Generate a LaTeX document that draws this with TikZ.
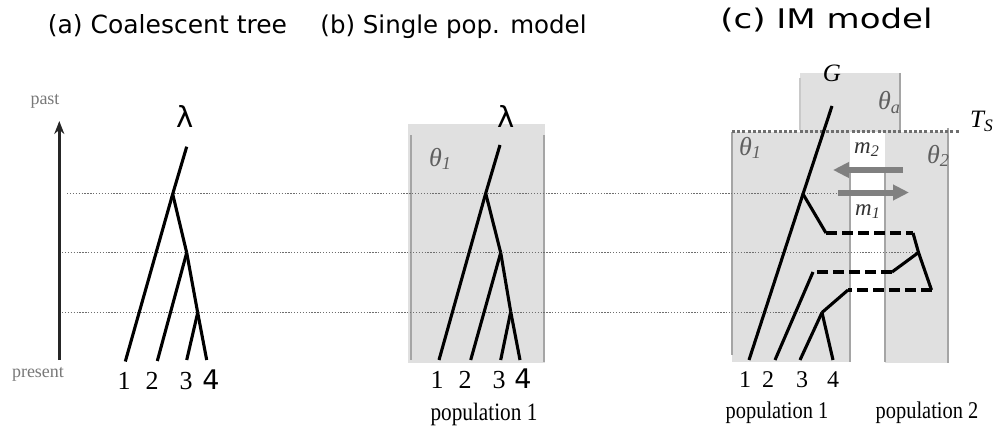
\documentclass[tikz,border=0pt]{standalone}
\usepackage{fontspec}
\setmainfont{Liberation Serif}
\newfontfamily\titlefont{DejaVu Sans}
\newfontfamily\widetitlefont[FakeStretch=1.26]{DejaVu Sans}
\newfontfamily\popfont[FakeStretch=0.85]{Liberation Serif}
\usetikzlibrary{arrows.meta}

\definecolor{popfill}{RGB}{224,224,224}
\definecolor{popedge}{RGB}{165,165,165}
\definecolor{dotgray}{RGB}{110,110,110}
\definecolor{arrowgray}{RGB}{128,128,128}
\definecolor{lblgray}{RGB}{95,95,95}
\definecolor{axisgray}{RGB}{120,120,120}

\begin{document}
\begin{tikzpicture}[
  x=1pt, y=-1pt,
  branch/.style={line width=3.1pt, draw=black},
  migline/.style={branch, dash pattern=on 11pt off 5pt},
  popbox/.style={fill=popfill, draw=none},
  popline/.style={line width=2pt, draw=popedge},
  timeline/.style={line width=1.3pt, draw=dotgray, dash pattern=on 1.3pt off 1.6pt},
  splitline/.style={line width=3pt, draw=dotgray, dash pattern=on 3pt off 2.2pt},
  migarrow/.style={line width=6pt, draw=arrowgray, -{Triangle[length=16pt,width=15pt]}},
  timearrow/.style={line width=2.4pt, draw=black!85, -{Stealth[length=13pt,width=10pt]}},
  title/.style={anchor=base, inner sep=0pt, font=\titlefont\fontsize{24.5}{28}\selectfont},
  axislbl/.style={anchor=base, inner sep=0pt, text=axisgray, font=\fontsize{18}{20}\selectfont},
  leaf/.style={anchor=base, inner sep=0pt, font=\fontsize{26}{30}\selectfont},
  leafsans/.style={anchor=base, inner sep=0pt, font=\titlefont\fontsize{27}{30}\selectfont},
  popname/.style={anchor=base, inner sep=0pt, font=\popfont\fontsize{25}{28}\selectfont},
  param/.style={anchor=base west, inner sep=0pt, text=lblgray, font=\itshape\fontsize{26}{29}\selectfont},
  rate/.style={anchor=base west, inner sep=0pt, text=black!80, font=\itshape\fontsize{23}{26}\selectfont},
]
\useasboundingbox (0,0) rectangle (995,433);

% ---- titles ----
\node[title, font=\titlefont\fontsize{25}{28}\selectfont] (ta) at (167.5,34) {(a) Coalescent tree};
\node[title] (tb) at (453.5,34) {(b) Single pop. model};
\node[title, font=\widetitlefont\fontsize{27}{30}\selectfont] (tc) at (826.5,28.5) {(c) IM model};

% ---- time axis ----
\coordinate (now) at (59.3,360);
\coordinate (then) at (59.3,121);
\draw[timearrow] (now) -- (then);
\node[axislbl] (past) at (45,105) {past};
\node[axislbl] (present) at (38,377) {present};

% ---- population boxes ----
\fill[popbox] (408,124) rectangle (545,362.7);
\fill[popbox] (800,73) rectangle (900,132);
\fill[popbox] (732,132) rectangle (850,362);
\fill[popbox] (885,132) rectangle (948,363);
\draw[popline] (411,135) -- (411,360);
\draw[popline] (544,135) -- (544,361.7);
\draw[popline, draw=popedge!60] (800,78) -- (800,130);
\draw[popline] (900,73) -- (900,132);
\draw[popline] (732,132) -- (732,355);
\draw[popline] (850,172) -- (850,362);
\draw[popline] (885,172) -- (885,362);
\draw[popline] (948,128) -- (948,363);

% ---- splitting time ----
\coordinate (ts-l) at (732,131.7);
\coordinate (ts-r) at (960,131.7);
\draw[splitline] (ts-l) -- (ts-r);
\node[anchor=base west, inner sep=0pt, font=\itshape\fontsize{25}{28}\selectfont] (ts) at (970,128)
  {T\textsubscript{S}};

% ---- tree (a) ----
\coordinate (a-top) at (186.7,146.7);
\coordinate (a-x) at (172.7,194);
\coordinate (a-y) at (186.7,252.7);
\coordinate (a-z) at (197.7,312.7);
\coordinate (a-1) at (125.3,361.5);
\coordinate (a-2) at (157.3,361);
\coordinate (a-3) at (186.7,360);
\coordinate (a-4) at (206.7,360);

% ---- tree (b) ----
\coordinate (b-top) at (500,145);
\coordinate (b-x) at (485.7,193.3);
\coordinate (b-y) at (500.7,252.7);
\coordinate (b-z) at (510.7,311.7);
\coordinate (b-1) at (439,360);
\coordinate (b-2) at (470.7,360);
\coordinate (b-3) at (500.7,360);
\coordinate (b-4) at (520,360);

% ---- tree (c) ----
\coordinate (c-top) at (832,106);
\coordinate (c-x) at (803,194);
\coordinate (c-p) at (826,233);
\coordinate (c-q) at (913,233);
\coordinate (c-d) at (918.5,252.5);
\coordinate (c-r) at (931.5,290);
\coordinate (c-s) at (848,290);
\coordinate (c-z) at (822,312.5);
\coordinate (c-u) at (892,272);
\coordinate (c-v) at (813,272);
\coordinate (c-1) at (749,360);
\coordinate (c-2) at (775,360);
\coordinate (c-3) at (800,360);
\coordinate (c-4) at (833,360);

% ---- migration arrows ----
\coordinate (m2-s) at (903,170);
\coordinate (m2-e) at (833,170);
\coordinate (m1-s) at (838,192.5);
\coordinate (m1-e) at (909,192.5);
\draw[migarrow] (m2-s) -- (m2-e);
\draw[migarrow] (m1-s) -- (m1-e);

% ---- coalescence times ----
\coordinate (t1) at (67,193.5);
\coordinate (t2) at (62,252.5);
\coordinate (t3) at (62,312.5);
\coordinate (t3-e) at (817,312.5);
\draw[timeline] (t1) -- (m1-s |- t1);
\draw[timeline] (t2) -- (c-d);
\draw[timeline] (t3) -- (t3-e);

% ---- branches ----
\foreach \u/\v in {a-top/a-x, a-x/a-1, a-x/a-y, a-y/a-2, a-y/a-z, a-z/a-3, a-z/a-4,
                   b-top/b-x, b-x/b-1, b-x/b-y, b-y/b-2, b-y/b-z, b-z/b-3, b-z/b-4,
                   c-top/c-x, c-x/c-1, c-x/c-p, c-q/c-d, c-d/c-r, c-s/c-z,
                   c-z/c-3, c-z/c-4, c-d/c-u, c-v/c-2}
  \draw[branch] (\u) -- (\v);
\draw[migline] (c-p) -- (c-q);
\draw[migline] (c-r) -- (c-s);
\draw[migline] (c-u) -- (c-v);

% ---- tree labels ----
\node[anchor=base, inner sep=0pt, font=\titlefont\fontsize{29}{32}\selectfont] (lam-a) at (185,128) {λ};
\node[anchor=base, inner sep=0pt, font=\titlefont\fontsize{29}{32}\selectfont] (lam-b) at (506,128) {λ};
\node[anchor=base, inner sep=0pt, font=\itshape\fontsize{25}{28}\selectfont] (g) at (832,82) {G};

\node[leaf] (la-1) at (124,389) {1};
\node[leaf] (la-2) at (152,389) {2};
\node[leaf] (la-3) at (186,389) {3};
\node[leafsans] (la-4) at (211,389) {4};
\node[leaf] (lb-1) at (437,388) {1};
\node[leaf] (lb-2) at (465,388) {2};
\node[leaf] (lb-3) at (499,388) {3};
\node[leafsans] (lb-4) at (523,388) {4};
\node[leaf, font=\fontsize{24}{27}\selectfont] (lc-1) at (745,387) {1};
\node[leaf, font=\fontsize{24}{27}\selectfont] (lc-2) at (768,387) {2};
\node[leaf, font=\fontsize{24}{27}\selectfont] (lc-3) at (802,387) {3};
\node[leaf, font=\fontsize{24}{27}\selectfont] (lc-4) at (833,387) {4};

\node[popname] (pop-b) at (484,420) {population 1};
\node[popname, font=\popfont\fontsize{24}{27}\selectfont] (pop-c1) at (777,418) {population 1};
\node[popname, font=\popfont\fontsize{24}{27}\selectfont] (pop-c2) at (927,418) {population 2};

% ---- parameters ----
\node[param] (th-b) at (429,166) {θ\textsubscript{1}};
\node[param] (th-c1) at (739,155) {θ\textsubscript{1}};
\node[param] (th-c2) at (927,163) {θ\textsubscript{2}};
\node[param] (th-a) at (878,110) {θ\textsubscript{a}};
\node[rate] (m-2) at (854,153) {m\textsubscript{2}};
\node[rate] (m-1) at (855,215) {m\textsubscript{1}};
\end{tikzpicture}
\end{document}
